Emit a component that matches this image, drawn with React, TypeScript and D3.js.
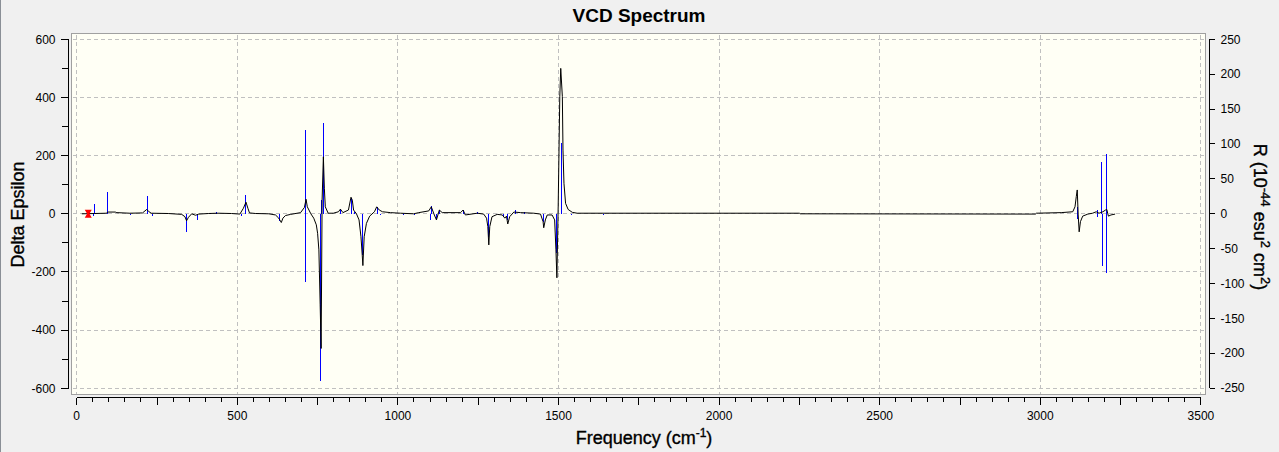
import React from "react";
import * as d3 from "d3";

// spectrum curve (Delta Epsilon, left axis)
const curveFreq = [
  16, 55, 94, 96, 120, 125, 165, 205, 218, 223, 232, 285, 327, 337, 342, 348, 358, 370, 380, 410,
  440, 482, 508, 519, 527, 533, 538, 557, 598, 619, 629, 637, 642, 650, 666, 697, 709, 714, 718, 729,
  738, 746, 750, 754, 758, 761, 764, 768, 771, 774, 783, 799, 815, 821, 829, 846, 854, 858, 862, 871,
  879, 885, 889, 891, 895, 902, 912, 927, 934, 942, 952, 977, 1008, 1049, 1065, 1096, 1104, 1112, 1120, 1129,
  1138, 1195, 1203, 1210, 1247, 1267, 1276, 1280, 1283, 1286, 1293, 1309, 1325, 1333, 1338, 1342, 1348, 1361, 1382, 1423,
  1444, 1452, 1454, 1459, 1465, 1480, 1488, 1492, 1495, 1499, 1504, 1507, 1512, 1514, 1517, 1522, 1530, 1543, 1558, 1756,
  2250, 2252, 2985, 2988, 3065, 3101, 3108, 3112, 3115, 3118, 3121, 3125, 3132, 3148, 3163, 3174, 3183, 3195, 3203, 3207,
  3212, 3220, 3233,
];
const curveEps = [
  0, 1, 2, 6, 6, 4, 2, 3, 15, 9, 2, 1, -2, -10, -24, -12, 0, -5, -1, 1,
  2, 1, -1, 19, 40, 19, 3, 1, 0, -4, -15, -30, -15, -6, -2, 4, 22, 50, 24, 0,
  -15, -38, -67, -124, -313, -463, 47, 196, 88, 24, 2, 2, 7, 16, 4, 13, 57, 47, 13, 0,
  -21, -79, -142, -178, -79, -33, -8, 7, 24, 13, 7, 4, 2, 0, 4, 10, 24, 0, -21, 13,
  4, 4, 13, -4, 2, -1, -15, -44, -107, -44, -10, -2, -4, -15, -8, -35, -10, 6, 4, 2,
  -1, -27, -48, -21, -4, -4, -21, -124, -220, 24, 403, 500, 403, 219, 105, 36, 15, 5, 2, 2,
  2, 0, -1, 2, 4, 7, 24, 59, 82, -4, -62, -27, -8, -1, 2, 7, 2, 7, 13, 15,
  -8, -4, -1,
];

// rotational strengths (R, right axis) drawn as sticks
const stickFreq = [
  53, 55, 95, 166, 221, 236, 342, 376, 418, 436, 513, 526, 632, 711, 713, 760, 762, 768, 822, 855,
  866, 890, 935, 945, 980, 1008, 1018, 1053, 1103, 1106, 1120, 1129, 1203, 1210, 1249, 1283, 1328, 1340, 1365, 1395,
  1452, 1495, 1508, 1541, 1639, 1660, 3115, 3117, 3177, 3179, 3192, 3194, 3205, 3207,
];
const stickR = [
  -4, 14, 31, -2, 26, -3, -27, -9, 1, 3, -3, 27, -11, -98, 120, -240, 19, 130, 6, 23,
  3, -59, 10, -2, -1, -1, -2, -2, -9, 11, -9, 5, 5, -1, 2, -33, -5, -9, 5, 2,
  -12, -56, 101, -2, -2, -1, 10, -8, 5, -5, 74, -75, 86, -85,
];

const markerFreq = 36;
const markerEps = 0;

const xTicks = [0, 500, 1000, 1500, 2000, 2500, 3000, 3500];
const yLeftTicks = [600, 400, 200, 0, -200, -400, -600];
const yRightTicks = [250, 200, 150, 100, 50, 0, -50, -100, -150, -200, -250];

const W = 1279;
const H = 452;
const FONT = "'Liberation Sans', Arial, sans-serif";

export default function App() {
  const x = d3.scaleLinear().domain([0, 3500]).range([76.7, 1200.9]);
  const yL = d3.scaleLinear().domain([-600, 600]).range([388.3, 39.3]);
  const yR = d3.scaleLinear().domain([-250, 250]).range([388, 39.3]);

  const frame = { x0: 71.5, y0: 33.5, x1: 1205.5, y1: 394.5 };
  const axisY = 397.5;
  const axisLX = 68.5;
  const axisRX = 1209.5;

  const pts: [number, number][] = curveFreq.map((f, i) => [f, curveEps[i]]);
  const line = d3
    .line<[number, number]>()
    .x((d) => x(d[0]))
    .y((d) => yL(d[1]));

  const minorX = d3.range(0, 3501, 50);
  const minorYL = d3.range(-600, 601, 100);

  const mx = x(markerFreq);
  const my = yL(markerEps);

  // axis titles look a touch heavier than plain regular weight
  const heavy = { stroke: "#000", strokeWidth: 0.35 };

  return (
    <div style={{ position: "absolute", left: 0, top: 0 }}>
      <svg width={W} height={H} style={{ display: "block" }} fontFamily={FONT}>
        <rect x={0} y={0} width={W} height={H} fill="#f0f0f0" />
        <line x1={0.5} y1={0} x2={0.5} y2={H} stroke="#8a8f96" />

        <text x={639} y={21.5} textAnchor="middle" fontSize={19} fontWeight="bold" fill="#000">
          VCD Spectrum
        </text>

        <rect
          x={frame.x0}
          y={frame.y0}
          width={frame.x1 - frame.x0}
          height={frame.y1 - frame.y0}
          fill="#fffff5"
          stroke="#a0a0a0"
        />

        <defs>
          <clipPath id="plotClip">
            <rect x={frame.x0} y={frame.y0} width={frame.x1 - frame.x0} height={frame.y1 - frame.y0} />
          </clipPath>
        </defs>

        {/* grid */}
        <g stroke="#c0c0c0" strokeDasharray="4,3" shapeRendering="crispEdges">
          {xTicks.map((t) => (
            <line key={"gx" + t} x1={x(t)} x2={x(t)} y1={frame.y0 + 1} y2={frame.y1 - 1} />
          ))}
          {yLeftTicks.map((t) => (
            <line key={"gy" + t} x1={frame.x0 + 1} x2={frame.x1 - 1} y1={yL(t)} y2={yL(t)} />
          ))}
        </g>

        <g clipPath="url(#plotClip)">
          {/* sticks */}
          <g stroke="#0000ff" strokeWidth={1} shapeRendering="crispEdges">
            {stickFreq.map((f, i) => (
              <line key={"s" + i} x1={x(f)} x2={x(f)} y1={yR(0)} y2={yR(stickR[i])} />
            ))}
          </g>
          <path d={line(pts) || ""} fill="none" stroke="#000" strokeWidth={1} />
          {/* red marker */}
          <path
            d={`M${mx - 3.5},${my - 4} L${mx + 3.5},${my - 4} L${mx + 1.2},${my} L${mx + 3.5},${my + 4} L${mx - 3.5},${my + 4} L${mx - 1.2},${my} Z`}
            fill="#ff0000"
          />
        </g>

        {/* x axis */}
        <g stroke="#000" shapeRendering="crispEdges">
          <line x1={x(0)} x2={x(3500)} y1={axisY} y2={axisY} />
          {minorX.map((t) => (
            <line key={"tx" + t} x1={x(t)} x2={x(t)} y1={axisY} y2={axisY + (t % 250 === 0 ? 7 : 4.5)} />
          ))}
        </g>
        <g fontSize={12} fill="#000" textAnchor="middle">
          {xTicks.map((t) => (
            <text key={"lx" + t} x={x(t)} y={419.5}>
              {t}
            </text>
          ))}
        </g>
        <text x={644} y={443.5} textAnchor="middle" fontSize={18} fill="#000" {...heavy}>
          Frequency (cm
          <tspan fontSize={12} dy={-7}>
            -1
          </tspan>
          <tspan dy={7}>)</tspan>
        </text>

        {/* left axis */}
        <g stroke="#000" shapeRendering="crispEdges">
          <line x1={axisLX} x2={axisLX} y1={yL(600)} y2={yL(-600)} />
          {minorYL.map((t) => (
            <line key={"tl" + t} x1={axisLX} x2={axisLX - (t % 200 === 0 ? 8 : 6.5)} y1={yL(t)} y2={yL(t)} />
          ))}
        </g>
        <g fontSize={12} fill="#000" textAnchor="end">
          {yLeftTicks.map((t) => (
            <text key={"ll" + t} x={55.5} y={yL(t) + 4.3}>
              {t}
            </text>
          ))}
        </g>
        <text
          transform={`translate(24,214.5) rotate(-90)`}
          textAnchor="middle"
          fontSize={18}
          fill="#000"
          {...heavy}
        >
          Delta Epsilon
        </text>

        {/* right axis */}
        <g stroke="#000" shapeRendering="crispEdges">
          <line x1={axisRX} x2={axisRX} y1={yR(250)} y2={yR(-250)} />
          {yRightTicks.map((t) => (
            <line key={"tr" + t} x1={axisRX} x2={axisRX + 5.5} y1={yR(t)} y2={yR(t)} />
          ))}
        </g>
        <g fontSize={12} fill="#000" textAnchor="start">
          {yRightTicks.map((t) => (
            <text key={"lr" + t} x={1220.5} y={yR(t) + 4.3}>
              {t}
            </text>
          ))}
        </g>
        <text
          transform={`translate(1254,217) rotate(90)`}
          textAnchor="middle"
          fontSize={18}
          fill="#000"
          {...heavy}
        >
          R (10
          <tspan fontSize={13} dy={-7}>
            -44
          </tspan>
          <tspan dy={7}> esu</tspan>
          <tspan fontSize={13} dy={-7}>
            2
          </tspan>
          <tspan dy={7}> cm</tspan>
          <tspan fontSize={13} dy={-7}>
            2
          </tspan>
          <tspan dy={7}>)</tspan>
        </text>
      </svg>
    </div>
  );
}
